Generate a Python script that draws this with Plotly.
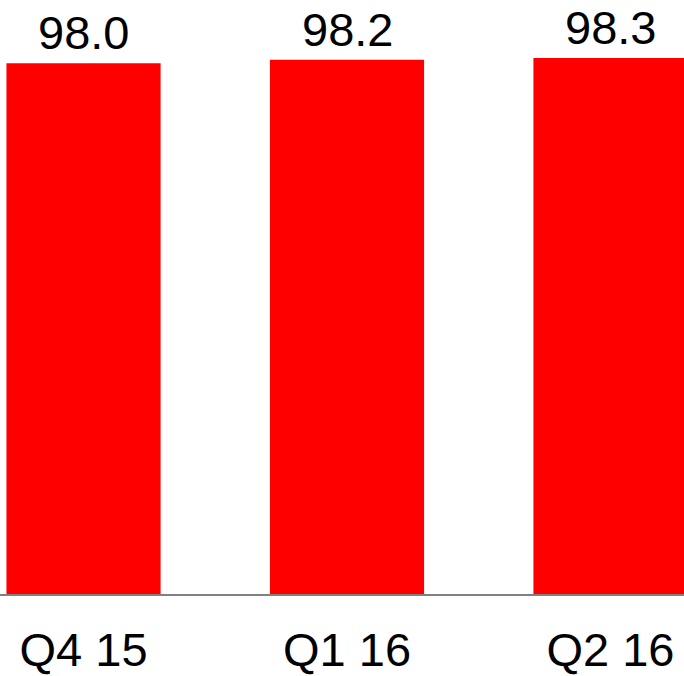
import plotly.graph_objects as go

categories = ["Q4 15", "Q1 16", "Q2 16"]
values = [98.0, 98.2, 98.3]
labels = ["98.0", "98.2", "98.3"]

FONT = "Liberation Sans, Arial, sans-serif"

fig = go.Figure(
    go.Bar(
        x=categories,
        y=values,
        marker=dict(color="#ff0000", line=dict(width=0)),
    )
)

for c, v, t in zip(categories, values, labels):
    fig.add_annotation(
        x=c, y=v, text=t, showarrow=False,
        yanchor="bottom", xanchor="center", yshift=3, borderpad=0,
        font=dict(family=FONT, size=47, color="#000000"),
    )

fig.update_layout(
    width=684,
    height=676,
    margin=dict(l=0, r=0, t=0, b=79),
    paper_bgcolor="white",
    plot_bgcolor="white",
    bargap=0.415,
    showlegend=False,
    font=dict(family=FONT, size=47, color="#000000"),
)
fig.update_xaxes(
    range=[-0.317, 2.279],
    showline=True,
    linecolor="#808080",
    linewidth=1.5,
    ticks="",
    showgrid=False,
    tickfont=dict(size=47, color="#000000"),
    ticklabelstandoff=14,
)
fig.update_yaxes(
    range=[68.85, 101.48],
    visible=False,
    showgrid=False,
)

fig.write_html("out.html")
